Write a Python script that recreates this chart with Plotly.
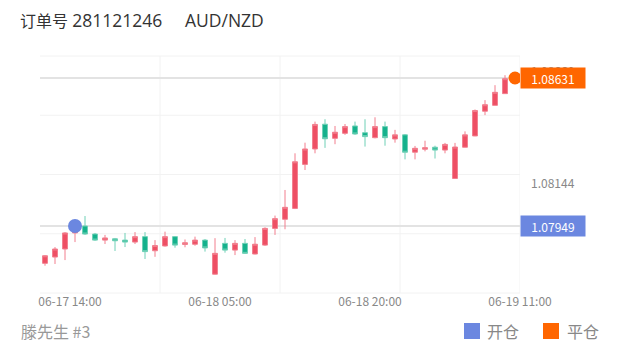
import plotly.graph_objects as go

# ---------------- data ----------------
order_label = "订单号"
order_number = "281121246"
symbol_name = "AUD/NZD"
footer_text = "滕先生 #3"
legend_open = "开仓"
legend_close = "平仓"

candle_index = list(range(47))
opens = [1.07777, 1.07806, 1.07843, 1.07917, 1.07949, 1.07912, 1.07884, 1.07890, 1.07884, 1.07875,
         1.07900, 1.07835, 1.07857, 1.07900, 1.07864, 1.07865, 1.07884, 1.07727, 1.07869, 1.07838,
         1.07869, 1.07820, 1.07861, 1.07938, 1.07980, 1.08030, 1.08233, 1.08304, 1.08418, 1.08353,
         1.08376, 1.08410, 1.08379, 1.08356, 1.08407, 1.08350, 1.08369, 1.08289, 1.08303, 1.08312,
         1.08299, 1.08168, 1.08312, 1.08364, 1.08478, 1.08505, 1.08559]
highs = [1.07815, 1.07852, 1.07921, 1.07952, 1.07995, 1.07917, 1.07908, 1.07894, 1.07917, 1.07921,
         1.07921, 1.07884, 1.07923, 1.07903, 1.07887, 1.07900, 1.07889, 1.07893, 1.07894, 1.07884,
         1.07889, 1.07898, 1.07943, 1.07997, 1.08115, 1.08284, 1.08333, 1.08430, 1.08441, 1.08410,
         1.08419, 1.08430, 1.08441, 1.08450, 1.08430, 1.08392, 1.08373, 1.08318, 1.08342, 1.08319,
         1.08332, 1.08332, 1.08385, 1.08486, 1.08529, 1.08598, 1.08644]
lows = [1.07766, 1.07774, 1.07792, 1.07875, 1.07908, 1.07880, 1.07866, 1.07834, 1.07852, 1.07866,
        1.07797, 1.07807, 1.07854, 1.07849, 1.07851, 1.07858, 1.07831, 1.07725, 1.07826, 1.07815,
        1.07820, 1.07818, 1.07857, 1.07908, 1.07934, 1.08027, 1.08207, 1.08284, 1.08309, 1.08326,
        1.08369, 1.08369, 1.08315, 1.08353, 1.08319, 1.08333, 1.08256, 1.08256, 1.08293, 1.08260,
        1.08284, 1.08166, 1.08311, 1.08363, 1.08460, 1.08505, 1.08559]
closes = [1.07812, 1.07843, 1.07917, 1.07940, 1.07912, 1.07884, 1.07894, 1.07881, 1.07875, 1.07900,
          1.07831, 1.07859, 1.07900, 1.07861, 1.07872, 1.07884, 1.07848, 1.07823, 1.07838, 1.07869,
          1.07823, 1.07865, 1.07938, 1.07983, 1.08035, 1.08245, 1.08304, 1.08417, 1.08351, 1.08381,
          1.08407, 1.08373, 1.08361, 1.08407, 1.08356, 1.08369, 1.08289, 1.08307, 1.08310, 1.08299,
          1.08325, 1.08313, 1.08369, 1.08481, 1.08508, 1.08565, 1.08628]

open_index, open_price = 3, 1.07949
close_index, close_price = 47, 1.08631

x_tick_positions = [2.5, 17.5, 32.5, 47.5]
x_tick_labels = ["06-17 14:00", "06-18 05:00", "06-18 20:00", "06-19 11:00"]
y_tick_values = [1.08144, 1.08660]
y_tick_labels = ["1.08144", "1.08660"]

x_range = [-0.5, 47.5]
y_range = [1.076403, 1.087324]

# ---------------- style ----------------
RED = "#EE4F64"
RED_WICK = "#F27F8E"
GREEN = "#14B18C"
GREEN_WICK = "#6FD0B6"
BLUE = "#6B87E0"
ORANGE = "#FF6600"
FONT = "Noto Sans CJK SC, Noto Sans, sans-serif"
TITLE_FONT = "Open Sans, Noto Sans CJK SC, sans-serif"

order_title = (f"{order_label} <span style='font-size:17.5px'>{order_number}"
               + "\u00a0" * 5 + f"{symbol_name}</span>")

fig = go.Figure()

fig.add_trace(go.Candlestick(
    x=candle_index, open=opens, high=highs, low=lows, close=closes,
    increasing=dict(fillcolor=RED, line=dict(color=RED_WICK, width=1)),
    decreasing=dict(fillcolor=GREEN, line=dict(color=GREEN_WICK, width=1)),
    whiskerwidth=0, hoverinfo="skip", showlegend=False,
))

fig.add_trace(go.Scatter(
    x=[open_index], y=[open_price], mode="markers", name=legend_open,
    marker=dict(color=BLUE, size=14, line=dict(width=0)), hoverinfo="skip",
))
fig.add_trace(go.Scatter(
    x=[close_index], y=[close_price], mode="markers", name=legend_close,
    marker=dict(color=ORANGE, size=13, line=dict(width=0)), hoverinfo="skip",
))

shapes = []
# horizontal grid (quarters of plot height)
for f in [0, 0.25, 0.5, 0.75, 1.0]:
    shapes.append(dict(type="line", xref="x domain", yref="y domain", x0=0, x1=1, y0=f, y1=f,
                       line=dict(color="#F2F2F2", width=1), layer="below"))
# vertical grid every 12 slots
for xv in [11.5, 23.5, 35.5, 47.5]:
    shapes.append(dict(type="line", xref="x", yref="y domain", x0=xv, x1=xv, y0=0, y1=1,
                       line=dict(color="#F2F2F2", width=1), layer="below"))
# open / close price lines
for pv in [open_price, close_price]:
    shapes.append(dict(type="line", xref="x domain", yref="y", x0=0, x1=1, y0=pv, y1=pv,
                       line=dict(color="#E3E3E3", width=2), layer="below"))

# legend squares (paper coords; plot area is 480 x 237 px, from (40,56))
def px_x(p):
    return (p - 40) / 480.0

def px_y(p):
    return (293 - p) / 237.0

shapes.append(dict(type="rect", xref="paper", yref="paper", x0=px_x(464), x1=px_x(480),
                   y0=px_y(339), y1=px_y(323), fillcolor=BLUE, line=dict(width=0)))
shapes.append(dict(type="rect", xref="paper", yref="paper", x0=px_x(543), x1=px_x(559),
                   y0=px_y(339), y1=px_y(323), fillcolor=ORANGE, line=dict(width=0)))

annotations = [
    dict(x=1, xref="paper", xanchor="left", y=open_price, yref="y", yanchor="middle",
         text=f"{open_price:.5f}", showarrow=False, bgcolor=BLUE, width=64, height=20,
         borderpad=0, font=dict(color="white", size=12, family=FONT)),
    dict(x=1, xref="paper", xanchor="left", y=close_price, yref="y", yanchor="middle",
         text=f"{close_price:.5f}", showarrow=False, bgcolor=ORANGE, width=64, height=20,
         borderpad=0, font=dict(color="white", size=12, family=FONT)),
    dict(x=px_x(19), xref="paper", xanchor="left", y=px_y(331), yref="paper", yanchor="middle",
         text=footer_text, showarrow=False, font=dict(color="#999999", size=16, family=FONT)),
    dict(x=px_x(485), xref="paper", xanchor="left", y=px_y(331), yref="paper", yanchor="middle",
         text=legend_open, showarrow=False, font=dict(color="#888888", size=16, family=FONT)),
    dict(x=px_x(565), xref="paper", xanchor="left", y=px_y(331), yref="paper", yanchor="middle",
         text=legend_close, showarrow=False, font=dict(color="#888888", size=16, family=FONT)),
]

fig.update_layout(
    width=620, height=352,
    margin=dict(l=40, r=100, t=56, b=59),
    paper_bgcolor="white", plot_bgcolor="white",
    showlegend=False, hovermode=False,
    font=dict(family=FONT, color="#888888", size=12),
    title=dict(text=order_title, x=20 / 620, xref="container", xanchor="left",
               y=1 - 21 / 352, yref="container", yanchor="middle",
               font=dict(size=16, color="#333333", family=TITLE_FONT)),
    shapes=shapes,
    annotations=annotations,
    xaxis=dict(range=x_range, tickmode="array", tickvals=x_tick_positions, ticktext=x_tick_labels,
               showgrid=False, zeroline=False, showline=False, ticks="", rangeslider=dict(visible=False),
               tickfont=dict(size=12, color="#888888"), fixedrange=True),
    yaxis=dict(range=y_range, side="right", tickmode="array", tickvals=y_tick_values, ticktext=y_tick_labels,
               showgrid=False, zeroline=False, showline=False, ticks="", ticklabelstandoff=10,
               tickfont=dict(size=12, color="#888888"), fixedrange=True),
)

fig.write_html("out.html")
